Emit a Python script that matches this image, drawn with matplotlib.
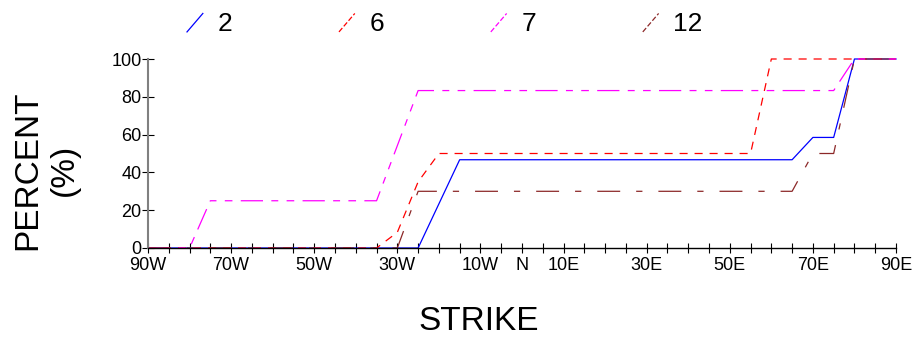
import matplotlib
matplotlib.use("Agg")
import matplotlib.pyplot as plt
from matplotlib.lines import Line2D
from matplotlib.legend_handler import HandlerBase

plt.rcParams['font.family'] = ['Liberation Sans', 'DejaVu Sans']
plt.rcParams['lines.scale_dashes'] = False

# strike (degrees, W negative) vs cumulative percent
x2 = [-90, -25, -15, 65, 70, 75, 80, 90]
y2 = [0, 0, 46.7, 46.7, 58.5, 58.5, 100, 100]
x6 = [-90, -35, -30, -25, -20, 55, 60, 90]
y6 = [0, 0, 8.3, 35, 50, 50, 100, 100]
x7 = [-90, -80, -75, -35, -25, 75, 80, 90]
y7 = [0, 0, 25, 25, 83.3, 83.3, 100, 100]
x12 = [-90, -30, -25, 65, 70, 75, 80, 90]
y12 = [0, 0, 30, 30, 50, 50, 100, 100]

names = ['2', '6', '7', '12']
label_pos = [-90, -70, -50, -30, -10, 0, 10, 30, 50, 70, 90]
label_txt = ['90W', '70W', '50W', '30W', '10W', 'N', '10E', '30E', '50E', '70E', '90E']
minor_pos = list(range(-90, 91, 5))
y_ticks = [0, 20, 40, 60, 80, 100]


class SlashHandler(HandlerBase):
    # legend key drawn as a short diagonal stroke
    def create_artists(self, legend, orig_handle, xdescent, ydescent,
                       width, height, fontsize, trans):
        ln = Line2D([-xdescent, -xdescent + width],
                    [-ydescent - 0.05 * height, -ydescent + 0.95 * height],
                    color=orig_handle.get_color(),
                    linewidth=orig_handle.get_linewidth(),
                    linestyle=orig_handle.get_linestyle(),
                    transform=trans)
        return [ln]


fig = plt.figure(figsize=(9.15, 3.4), dpi=100)
ax = fig.add_axes([148 / 915, 92 / 340, 748 / 915, 189 / 340])

lw = 0.9
l2, = ax.plot(x2, y2, color='#0000ff', lw=lw, clip_on=False)
l6, = ax.plot(x6, y6, color='#ff0000', lw=lw, clip_on=False,
              linestyle=(0, (5.8, 5.0)))
l7, = ax.plot(x7, y7, color='#ff00ff', lw=lw, clip_on=False,
              linestyle=(0, (16, 6, 5, 6, 5.5, 6)))
l12, = ax.plot(x12, y12, color='#8c2828', lw=lw, clip_on=False,
               linestyle=(0, (16.5, 11.5, 4.5, 11.5)))

ax.set_xlim(-90, 90)
ax.set_ylim(0, 100)
ax.set_xticks(label_pos)
ax.set_xticklabels(label_txt)
ax.set_xticks(minor_pos, minor=True)
ax.set_yticks(y_ticks)

ax.spines['top'].set_visible(False)
ax.spines['right'].set_visible(False)
ax.spines['left'].set_color('#808080')
ax.spines['left'].set_linewidth(1.5)
ax.spines['bottom'].set_color('black')
ax.spines['bottom'].set_linewidth(1.0)

ax.tick_params(axis='x', which='both', direction='inout', length=6.5,
               width=0.8, color='black', labelsize=13, pad=3.5)
ax.tick_params(axis='y', direction='inout', length=8, width=0.8,
               color='black', labelsize=13, pad=0.5)

fig.text(479 / 915, 1 - 322 / 340, 'STRIKE', fontsize=24,
         ha='center', va='center')
fig.text(46 / 915, 1 - 170 / 340, 'PERCENT\n(%)', fontsize=24,
         ha='center', va='center', rotation=90, multialignment='center')

fig.legend([l2, l6, l7, l12], names, ncol=4, frameon=False,
           loc='center left', bbox_to_anchor=(187 / 915, 1 - 24 / 340),
           borderpad=0, borderaxespad=0, fontsize=19,
           handlelength=0.6, handletextpad=0.55, columnspacing=4.05,
           handler_map={Line2D: SlashHandler()})

fig.savefig('out.png', dpi=100)
